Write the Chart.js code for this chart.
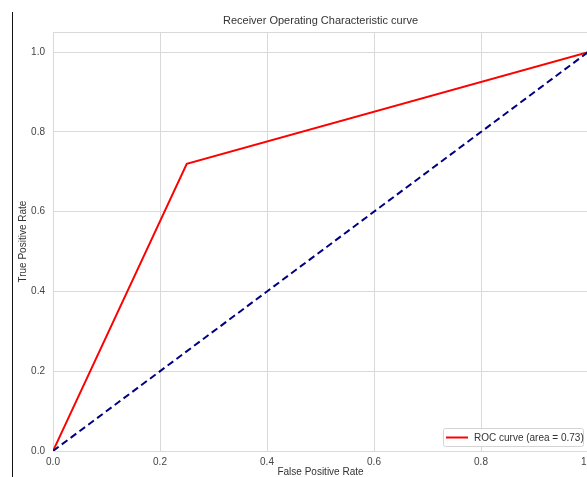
<!DOCTYPE html>
<html>
<head>
<meta charset="utf-8">
<script src="https://cdn.jsdelivr.net/npm/chart.js@4"></script>
<style>
  html, body { margin: 0; padding: 0; background: #fff; overflow: hidden; width: 587px; height: 477px; }
  #wrap { position: relative; width: 620px; height: 477px; }
  #edge { position: absolute; left: 12px; top: 12px; width: 1px; bottom: 0; background: #111; }
  canvas { display: block; }
</style>
</head>
<body>
<div id="wrap">
  <canvas id="c" width="620" height="477"></canvas>
  <div id="edge"></div>
</div>
<script>
const titleText = 'Receiver Operating Characteristic curve';
const xTitle = 'False Positive Rate';
const yTitle = 'True Positive Rate';
const rocLabel = 'ROC curve (area = 0.73)';
const fpr = [0.0, 0.25, 1.0];
const tpr = [0.0, 0.72, 1.0];
const diagX = [0.0, 1.0];
const diagY = [0.0, 1.0];
const xTicks = [0.0, 0.2, 0.4, 0.6, 0.8, 1.0];
const yTicks = [0.0, 0.2, 0.4, 0.6, 0.8, 1.0];

const FONT = '"Liberation Sans", Arial, sans-serif';
const GRID = '#d9d9d9';
const TXT = '#444444';

const legendPlugin = {
  id: 'innerLegend',
  afterDraw(chart) {
    const ctx = chart.ctx;
    const ds = chart.data.datasets[0];
    const x0 = 443.5, y0 = 428.5, w = 140, h = 18;
    ctx.save();
    ctx.beginPath();
    if (ctx.roundRect) ctx.roundRect(x0, y0, w, h, 2); else ctx.rect(x0, y0, w, h);
    ctx.fillStyle = 'rgba(255,255,255,0.85)';
    ctx.fill();
    ctx.strokeStyle = '#d4d4d4';
    ctx.lineWidth = 1;
    ctx.stroke();
    ctx.beginPath();
    ctx.moveTo(446, 437.5);
    ctx.lineTo(468, 437.5);
    ctx.strokeStyle = ds.borderColor;
    ctx.lineWidth = 2;
    ctx.stroke();
    ctx.fillStyle = '#333333';
    ctx.font = '10px ' + FONT;
    ctx.textBaseline = 'middle';
    ctx.textAlign = 'left';
    ctx.fillText(ds.label, 474, 438);
    ctx.restore();
  }
};

new Chart(document.getElementById('c'), {
  type: 'scatter',
  data: {
    datasets: [
      {
        label: rocLabel,
        data: fpr.map((v, i) => ({ x: v, y: tpr[i] })),
        showLine: true,
        borderColor: '#ff0000',
        backgroundColor: '#ff0000',
        borderWidth: 2,
        pointRadius: 0,
        tension: 0,
        order: 1
      },
      {
        label: 'chance',
        data: diagX.map((v, i) => ({ x: v, y: diagY[i] })),
        showLine: true,
        borderColor: '#000080',
        backgroundColor: '#000080',
        borderWidth: 2,
        borderDash: [7, 4],
        pointRadius: 0,
        tension: 0,
        order: 0
      }
    ]
  },
  options: {
    responsive: false,
    animation: false,
    layout: { padding: { left: 0, right: 32, top: 0, bottom: 0 } },
    plugins: {
      legend: { display: false },
      tooltip: { enabled: false },
      title: {
        display: true,
        text: titleText,
        fullSize: false,
        color: '#333333',
        font: { family: FONT, size: 11, weight: 'normal' },
        padding: { top: 14, bottom: 5 }
      }
    },
    scales: {
      x: {
        type: 'linear',
        min: 0,
        max: 1.0,
        afterBuildTicks(s) { s.ticks = xTicks.map(v => ({ value: v })); },
        afterFit(s) { s.height = 26; },
        ticks: {
          color: TXT,
          font: { family: FONT, size: 10 },
          padding: 5,
          maxRotation: 0,
          callback: v => Number(v).toFixed(1)
        },
        grid: { color: GRID, lineWidth: 1, drawTicks: false },
        border: { display: true, color: GRID, width: 1 },
        title: {
          display: true,
          text: xTitle,
          color: '#333333',
          font: { family: FONT, size: 10 },
          padding: { top: 0, bottom: -1.5 }
        }
      },
      y: {
        type: 'linear',
        min: 0,
        max: 1.05,
        afterBuildTicks(s) { s.ticks = yTicks.map(v => ({ value: v })).concat([{ value: 1.05 }]); },
        afterFit(s) { s.width = 53; },
        ticks: {
          color: TXT,
          font: { family: FONT, size: 10 },
          padding: 8,
          callback: v => (Math.abs(v - 1.05) < 1e-9 ? '' : Number(v).toFixed(1))
        },
        grid: { color: GRID, lineWidth: 1, drawTicks: false },
        border: { display: true, color: GRID, width: 1 },
        title: {
          display: true,
          text: yTitle,
          color: '#333333',
          font: { family: FONT, size: 10 },
          padding: { top: 17, bottom: 0 }
        }
      }
    }
  },
  plugins: [legendPlugin]
});
</script>
</body>
</html>
